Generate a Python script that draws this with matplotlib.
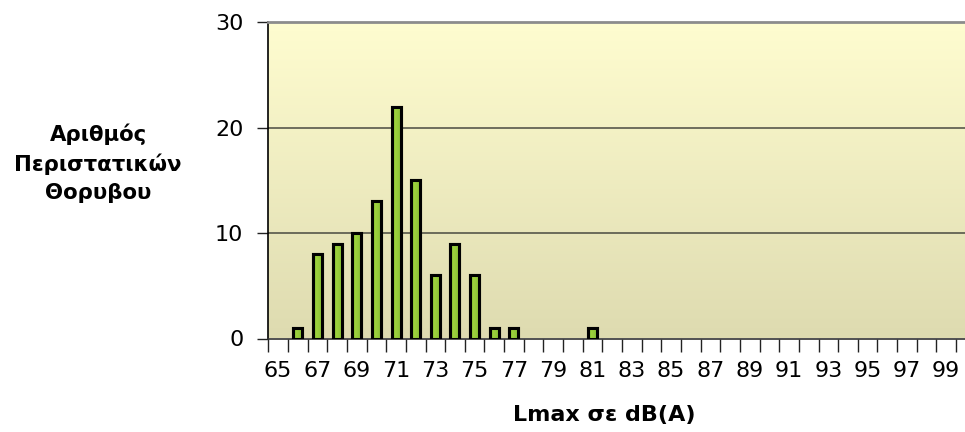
import matplotlib
matplotlib.use('Agg')

import matplotlib.pyplot as plt
import numpy as np
from matplotlib.colors import LinearSegmentedColormap

# Lmax classes (dB(A)) and number of noise events
lmax_classes = list(range(65, 101))
event_counts = [0, 1, 8, 9, 10, 13, 22, 15, 6, 9, 6, 1, 1, 0, 0, 0, 1, 0,
                0, 0, 0, 0, 0, 0, 0, 0, 0, 0, 0, 0, 0, 0, 0, 0, 0, 0]
y_ticks = [0, 10, 20, 30]

fig = plt.figure(figsize=(9.65, 4.32), dpi=100)
ax = fig.add_axes([268.3 / 965, 1 - 338.5 / 432, 36 * 19.65 / 965, (338.5 - 22.3) / 432])

x = np.arange(len(lmax_classes))
ax.set_xlim(-0.5, len(lmax_classes) - 0.5)
ax.set_ylim(0, 30)

# background gradient, light yellow on top to khaki at bottom
bg = LinearSegmentedColormap.from_list('bg', ['#dedbb0', '#fffdd0'])
ax.imshow(np.linspace(0, 1, 256).reshape(-1, 1), cmap=bg, aspect='auto',
          extent=[-0.5, len(lmax_classes) - 0.5, 0, 30], origin='lower', zorder=0)

for yv in y_ticks[1:3]:
    ax.axhline(yv, color='#4a4a40', lw=1.1, zorder=1)

# bars with a horizontal green gradient
green = LinearSegmentedColormap.from_list('gr', ['#6cb634', '#9fd23c', '#92c83a', '#80bc2c'])
bars = ax.bar(x, event_counts, width=0.46, color='#8cc63e', edgecolor='black',
              linewidth=2.2, zorder=3)
for b, c in zip(bars, event_counts):
    if c == 0:
        b.set_visible(False)
        continue
    x0 = b.get_x()
    w = b.get_width()
    im = ax.imshow(np.linspace(0, 1, 64).reshape(1, -1), cmap=green, aspect='auto',
                   extent=[x0, x0 + w, 0, c], zorder=3.5)
    im.set_clip_path(b)
    edge = plt.Rectangle((x0, 0), w, c, fill=False, edgecolor='black', lw=2.2, zorder=4)
    ax.add_patch(edge)

ax.set_xlim(-0.5, len(lmax_classes) - 0.5)
ax.set_ylim(0, 30)

# ticks at category boundaries, labels for every other class
ax.set_xticks(np.arange(len(lmax_classes) + 1) - 0.5)
ax.set_xticklabels([])
ax.set_xticks(x[::2], minor=True)
ax.set_xticklabels([str(v) for v in lmax_classes[::2]], minor=True, fontsize=16)
ax.tick_params(axis='x', which='major', length=9, width=1, color='#222222', direction='out')
ax.tick_params(axis='x', which='minor', length=0, pad=16)

ax.set_yticks(y_ticks)
ax.set_yticklabels([str(v) for v in y_ticks], fontsize=16)
ax.tick_params(axis='y', length=8, width=1, color='#222222', pad=10)

ax.spines['top'].set_color('#8c8c8c')
ax.spines['top'].set_linewidth(2)
ax.spines['right'].set_visible(False)
ax.spines['left'].set_color('black')
ax.spines['left'].set_linewidth(1.2)
ax.spines['bottom'].set_color('#333333')
ax.spines['bottom'].set_linewidth(1.2)

fig.text(98 / 965, 1 - 163 / 432, 'Αριθμός\nΠεριστατικών\nΘορυβου', ha='center', va='center',
         fontsize=15.3, fontweight='bold', linespacing=1.48)
fig.text(604 / 965, 1 - 415 / 432, 'Lmax σε dB(A)', ha='center', va='center',
         fontsize=16, fontweight='bold')

fig.savefig('out.png', dpi=100)
plt.close(fig)
